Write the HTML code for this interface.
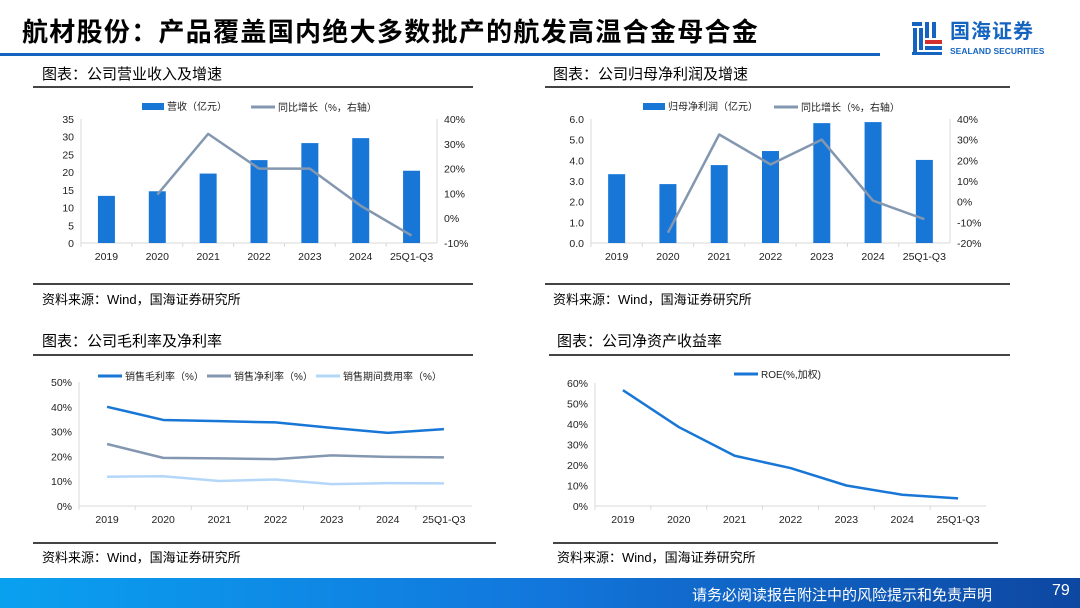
<!DOCTYPE html>
<html><head><meta charset="utf-8">
<style>
*{margin:0;padding:0;box-sizing:border-box}
body{width:1080px;height:608px;background:#fff;position:relative;overflow:hidden;font-family:"Liberation Sans","Noto Sans CJK SC",sans-serif;color:#000}
.abs{position:absolute}
.title{left:22px;top:12px;font-size:26px;font-weight:bold;letter-spacing:1.3px;white-space:nowrap}
.hdr{font-size:15px;white-space:nowrap}
.src{font-size:13px;white-space:nowrap}
.rule{height:2px;background:#444}
</style></head><body>
<div class="abs title">航材股份：产品覆盖国内绝大多数批产的航发高温合金母合金</div>
<div class="abs" style="left:0;top:53px;width:880px;height:3px;background:#1565c0"></div>
<div class="abs" style="left:912px;top:20px;width:30px;height:36px">
<svg width="30" height="36"><g fill="#1565c0"><rect x="0" y="2" width="10" height="4"/><rect x="1" y="8" width="4" height="24"/><rect x="7" y="8" width="4" height="22"/><rect x="13" y="2" width="4" height="16"/><rect x="20" y="2" width="4" height="16"/><rect x="13" y="26" width="17" height="4"/><rect x="0" y="32" width="30" height="3"/></g><rect x="13" y="20" width="17" height="4" fill="#d32f2f"/></svg></div>
<div class="abs" style="left:950px;top:21px;font-size:20px;line-height:22px;font-weight:bold;color:#1565c0;letter-spacing:1px">国海证券</div>
<div class="abs" style="left:950px;top:47px;font-size:8.5px;line-height:9px;font-weight:bold;color:#1565c0">SEALAND SECURITIES</div>

<div class="abs hdr" style="left:42px;top:63px">图表：公司营业收入及增速</div>
<div class="abs rule" style="left:33px;top:86px;width:440px"></div>
<div class="abs hdr" style="left:553px;top:63px">图表：公司归母净利润及增速</div>
<div class="abs rule" style="left:545px;top:86px;width:465px"></div>
<div class="abs rule" style="left:33px;top:283px;width:440px"></div>
<div class="abs rule" style="left:545px;top:283px;width:465px"></div>
<div class="abs src" style="left:42px;top:289px">资料来源：Wind，国海证券研究所</div>
<div class="abs src" style="left:553px;top:289px">资料来源：Wind，国海证券研究所</div>

<div class="abs hdr" style="left:42px;top:330px">图表：公司毛利率及净利率</div>
<div class="abs rule" style="left:33px;top:354px;width:440px"></div>
<div class="abs hdr" style="left:557px;top:330px">图表：公司净资产收益率</div>
<div class="abs rule" style="left:549px;top:354px;width:461px"></div>
<div class="abs rule" style="left:33px;top:542px;width:463px"></div>
<div class="abs rule" style="left:553px;top:542px;width:445px"></div>
<div class="abs src" style="left:42px;top:547px">资料来源：Wind，国海证券研究所</div>
<div class="abs src" style="left:557px;top:547px">资料来源：Wind，国海证券研究所</div>

<div class="abs" style="left:0;top:578px;width:1080px;height:30px;background:linear-gradient(90deg,#0aa0f0 0%,#1277dc 50%,#0d47a1 100%)"></div>
<div class="abs" style="left:692px;top:584px;font-size:15px;color:#fff;white-space:nowrap">请务必阅读报告附注中的风险提示和免责声明</div>
<div class="abs" style="left:1052px;top:582px;font-size:16px;color:#fff">79</div>

<svg id="svg" class="abs" style="left:0;top:0" width="1080" height="608"></svg>
<script>
const cats=["2019","2020","2021","2022","2023","2024","25Q1-Q3"];
const revenue=[13.3,14.6,19.6,23.4,28.2,29.6,20.4];
const revenueGrowth=[null,9.5,34,20,20,5,-7];
const revTicks=[0,5,10,15,20,25,30,35];
const revGrowthTicks=[-10,0,10,20,30,40];
const profit=[3.33,2.85,3.77,4.45,5.8,5.85,4.02];
const profitGrowth=[null,-15,32.5,18,30,0.5,-8.5];
const profitTicks=[0,1,2,3,4,5,6];
const profitGrowthTicks=[-20,-10,0,10,20,30,40];
const grossMargin=[40,34.7,34.2,33.7,31.5,29.5,31];
const netMargin=[25,19.4,19.2,18.9,20.4,19.8,19.6];
const expenseRatio=[11.8,12,10.1,10.7,8.8,9.2,9.1];
const marginTicks=[0,10,20,30,40,50];
const roe=[56.5,38.5,24.5,18.5,10,5.5,3.7];
const roeTicks=[0,10,20,30,40,50,60];

const S=document.getElementById('svg');const NS='http://www.w3.org/2000/svg';
function mk(t,a,txt){const e=document.createElementNS(NS,t);for(const k in a)e.setAttribute(k,a[k]);if(txt!=null)e.textContent=txt;S.appendChild(e);return e;}
function txt(x,y,s,anchor,name,size){const e=mk('text',{x:x,y:y,'font-size':size||10.5,'text-anchor':anchor,fill:'#222','font-family':'"Liberation Sans","Noto Sans CJK SC",sans-serif'},s);

return e;}

function frame(c){
 const xs=i=>c.x0+(i+0.5)*(c.x1-c.x0)/cats.length;
 const ys=v=>c.yb-(v-c.ymin)/(c.ymax-c.ymin)*(c.yb-c.yt);
 let l=mk('line',{x1:c.x0,y1:c.yt,x2:c.x0,y2:c.yb,stroke:'#d9d9d9'});
 
 
 l=mk('line',{x1:c.x0,y1:c.yb,x2:c.x1,y2:c.yb,stroke:'#d9d9d9'});
 
 
 c.ticks.forEach(t=>txt(c.x0-7,ys(t)+4,c.fmt(t),'end','y-tick-label'));
 cats.forEach((s,i)=>{txt(xs(i),c.yb+17,s,'middle','x-tick-label');
  const tk=mk('line',{x1:c.x0+i*(c.x1-c.x0)/cats.length,y1:c.yb,x2:c.x0+i*(c.x1-c.x0)/cats.length,y2:c.yb+4,stroke:'#d9d9d9'});
  
  });
 return {xs,ys};
}
function line(vals,xs,ys,color,w,name){const pts=[];vals.forEach((v,i)=>{if(v!=null)pts.push(xs(i)+','+ys(v));});
 const p=mk('polyline',{points:pts.join(' '),fill:'none',stroke:color,'stroke-width':w,'stroke-linejoin':'round'});
 
 }
function rightAxis(c,ticks,rmin,rmax,x){const yr=v=>c.yb-(v-rmin)/(rmax-rmin)*(c.yb-c.yt);
 let l=mk('line',{x1:c.x1,y1:c.yt,x2:c.x1,y2:c.yb,stroke:'#d9d9d9'});
 
 
 ticks.forEach(t=>txt(x,yr(t)+4,t+'%','start','right-tick-label'));return yr;}
function legRect(x,y,label,color){const r=mk('rect',{x:x,y:y-5,width:22,height:7,fill:color});
 
 
 txt(x+25,y+2,label,'start','legend-entry',10);}
function legLine(x,y,label,color){const r=mk('line',{x1:x,y1:y-1,x2:x+24,y2:y-1,stroke:color,'stroke-width':3});
 
 
 txt(x+27,y+3,label,'start','legend-entry',10);}

// Chart 1
{const c={x0:81,x1:437,yt:119,yb:243,ymin:0,ymax:35,ticks:revTicks,fmt:t=>t};
 const {xs,ys}=frame(c);
 revenue.forEach((v,i)=>{const b=mk('rect',{x:xs(i)-8.5,y:ys(v),width:17,height:c.yb-ys(v),fill:'#1877d6'});
  
  });
 const yr=rightAxis(c,revGrowthTicks,-10,40,444);
 line(revenueGrowth,xs,yr,'#8497b0',2.5,'revenue-growth-line');
 legRect(142,108,'营收（亿元）','#1877d6');legLine(251,108,'同比增长（%，右轴）','#8497b0');}
// Chart 2
{const c={x0:591,x1:950,yt:119,yb:243,ymin:0,ymax:6,ticks:profitTicks,fmt:t=>t.toFixed(1)};
 const {xs,ys}=frame(c);
 profit.forEach((v,i)=>{const b=mk('rect',{x:xs(i)-8.5,y:ys(v),width:17,height:c.yb-ys(v),fill:'#1877d6'});
  
  });
 const yr=rightAxis(c,profitGrowthTicks,-20,40,957);
 line(profitGrowth,xs,yr,'#8497b0',2.5,'profit-growth-line');
 legRect(643,108,'归母净利润（亿元）','#1877d6');legLine(774,108,'同比增长（%，右轴）','#8497b0');}
// Chart 3
{const c={x0:79,x1:472,yt:382,yb:506,ymin:0,ymax:50,ticks:marginTicks,fmt:t=>t+'%'};
 const {xs,ys}=frame(c);
 line(grossMargin,xs,ys,'#1877d6',2.5,'gross-margin-line');
 line(netMargin,xs,ys,'#8497b0',2.5,'net-margin-line');
 line(expenseRatio,xs,ys,'#b4d7f9',2.5,'expense-ratio-line');
 legLine(98,377,'销售毛利率（%）','#1877d6');legLine(207,377,'销售净利率（%）','#8497b0');legLine(316,377,'销售期间费用率（%）','#b4d7f9');}
// Chart 4
{const c={x0:595,x1:986,yt:383,yb:506,ymin:0,ymax:60,ticks:roeTicks,fmt:t=>t+'%'};
 const {xs,ys}=frame(c);
 line(roe,xs,ys,'#1877d6',2.5,'roe-line');
 legLine(734,375,'ROE(%,加权)','#1877d6');}
</script>
</body></html>
